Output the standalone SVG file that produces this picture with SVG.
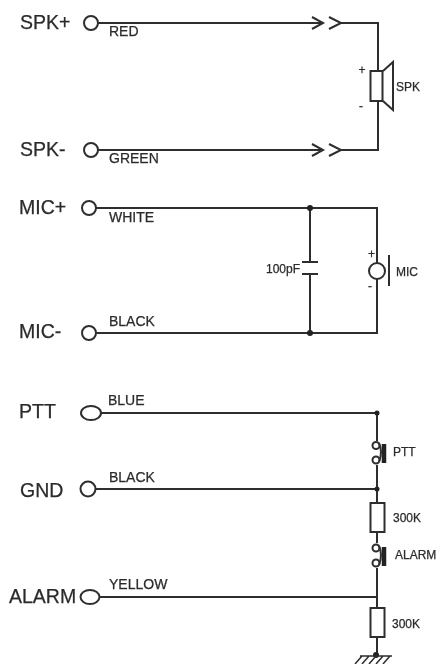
<svg xmlns="http://www.w3.org/2000/svg" width="437" height="664" viewBox="0 0 437 664">
<style>
text{font-family:"Liberation Sans",Arial,sans-serif;fill:#2b2b2b}
.t{font-size:19.500px;stroke:#2b2b2b;stroke-width:.25px}
.w{font-size:14px;stroke:#2b2b2b;stroke-width:.25px}
.s{font-size:12px;stroke:#2b2b2b;stroke-width:.25px}
.l,.o,.r{fill:none;stroke:#2e2e2e;stroke-width:2;stroke-linejoin:miter}
.o,.r{fill:#fff}
.d{fill:#222}
.b{fill:none;stroke:#222;stroke-width:4.5}
</style>
<defs><filter id="soft" x="0" y="0" width="100%" height="100%"><feGaussianBlur stdDeviation="0.4"/></filter></defs>
<rect width="437" height="664" fill="#fff"/>
<g filter="url(#soft)">
<g id="connectors">
<path class="l" d="M98 23H322M312 17L323 23L312 29M329 17L341 23L329 29M341 23H378V71M378 101V150H341M329 144L341 150L329 156M312 144L323 150L312 156M322 150H98"/>
<path class="l" d="M96 208H377V263M377 279V333H96M310 208V262M310 274V333"/>
<path class="l" d="M101 413H377V441M377 465V503M377 532V543M377 568V608M377 637V655M95 489H377M99 597H377"/>
</g>
<g id="spk-plus"><circle class="o" cx="91" cy="23" r="7"/><text class="t" x="20" y="29">SPK+</text><text class="w" x="109" y="36">RED</text></g>
<g id="spk-minus"><circle class="o" cx="91" cy="150" r="7"/><text class="t" x="20" y="156">SPK-</text><text class="w" x="109" y="163">GREEN</text></g>
<g id="speaker"><rect class="r" x="370.500" y="71" width="12" height="30"/><path class="l" d="M383 71L393 62V110L383 101"/><text class="s" x="358.500" y="74">+</text><text class="s" x="359" y="110">-</text><text class="s" x="396" y="91">SPK</text></g>
<g id="mic-plus"><circle class="o" cx="89" cy="208" r="7"/><text class="t" x="19" y="214">MIC+</text><text class="w" x="109" y="222">WHITE</text></g>
<g id="mic-minus"><circle class="o" cx="89" cy="333" r="7"/><text class="t" x="19" y="338">MIC-</text><text class="w" x="109" y="326">BLACK</text></g>
<g id="capacitor"><circle class="d" cx="310" cy="208" r="3"/><circle class="d" cx="310" cy="333" r="3"/><path class="l" d="M302 262H318M302 274H318"/><text class="s" x="266" y="273">100pF</text></g>
<g id="microphone"><circle class="o" cx="377" cy="271" r="8"/><path class="l" d="M389 255V286"/><text class="s" x="368" y="258">+</text><text class="s" x="368" y="290">-</text><text class="s" x="396" y="276">MIC</text></g>
<g id="ptt-term"><ellipse class="o" cx="91" cy="413" rx="10" ry="7"/><text class="t" x="19" y="418">PTT</text><text class="w" x="108" y="405">BLUE</text></g>
<g id="gnd-term"><circle class="o" cx="88" cy="489" r="7.500"/><text class="t" x="20" y="497">GND</text><text class="w" x="109" y="482">BLACK</text></g>
<g id="alarm-term"><ellipse class="o" cx="90" cy="597" rx="9.500" ry="7"/><text class="t" x="9" y="603">ALARM</text><text class="w" x="109" y="589">YELLOW</text></g>
<g id="ptt-switch"><circle class="d" cx="377" cy="413" r="2.500"/><circle class="o" cx="376" cy="445.500" r="3.500"/><circle class="o" cx="376" cy="460" r="3.500"/><path class="b" d="M384 444V463"/><path class="l" d="M379 443Q383 452 379 462"/><text class="s" x="393" y="456">PTT</text></g>
<g id="r1"><circle class="d" cx="377" cy="489" r="2.500"/><rect class="r" x="370.500" y="503" width="14" height="29"/><text class="s" x="393" y="522">300K</text></g>
<g id="alarm-switch"><circle class="o" cx="376" cy="548" r="3.500"/><circle class="o" cx="376" cy="563" r="3.500"/><path class="b" d="M384 547V566"/><path class="l" d="M379 546Q383 555 379 565"/><text class="s" x="395" y="559">ALARM</text></g>
<g id="r2"><rect class="r" x="370.500" y="608" width="14" height="29"/><text class="s" x="392" y="628">300K</text></g>
<g id="ground"><circle class="d" cx="376" cy="655" r="3"/><path class="l" d="M360 656H392M362 656L355 664M369 656L362 664M376 656L369 664M383 656L376 664M390 656L383 664" style="stroke-width:1.500"/></g>
</g>
</svg>
